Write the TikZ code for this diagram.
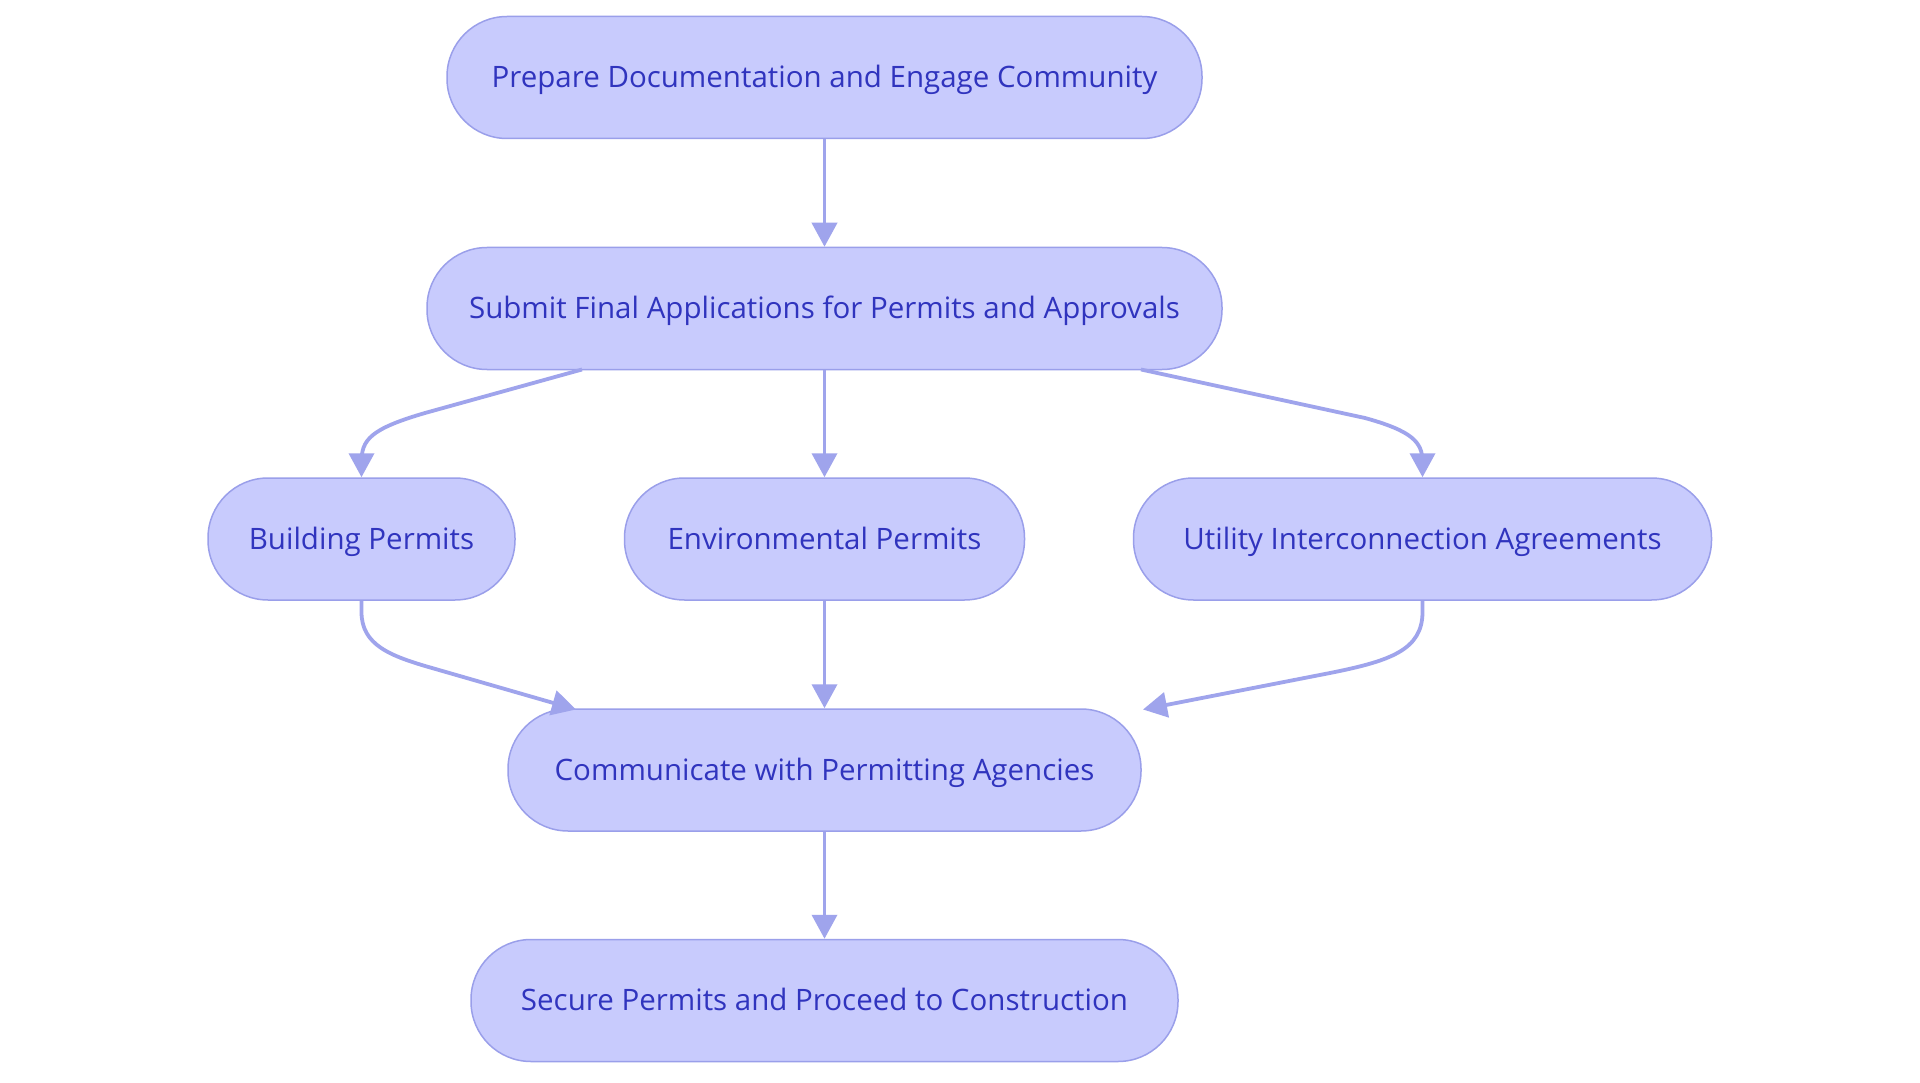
\documentclass[tikz,border=0pt]{standalone}
\usepackage{fontspec}
\setmainfont{Open Sans}
\usetikzlibrary{arrows.meta,calc}
\definecolor{nfill}{HTML}{C8CBFD}
\definecolor{nborder}{HTML}{9A9FEA}
\definecolor{edgec}{HTML}{9FA4EC}
\definecolor{ntext}{HTML}{3034BE}
\begin{document}
\begin{tikzpicture}[x=1pt,y=-1pt,
  box/.style={draw=nborder,line width=1.5pt,fill=nfill,rounded corners=60pt,
    minimum height=122pt,inner sep=0pt,text=ntext,text height=21pt,text depth=1pt,
    font=\fontsize{29.5}{34}\selectfont},
  link/.style={draw=edgec,line width=3.8pt,-{Triangle[length=24pt,width=25pt]}}]
\useasboundingbox[fill=white] (0,0) rectangle (1920,1083);
\node[box,minimum width=755pt] (n1) at (824.5,77.5) {Prepare Documentation and Engage Community};
\node[box,minimum width=795pt] (n2) at (824.5,308.5) {Submit Final Applications for Permits and Approvals};
\node[box,minimum width=307pt] (bld) at (361.5,539) {Building Permits};
\node[box,minimum width=400pt] (env) at (824.5,539) {Environmental Permits};
\node[box,minimum width=578pt] (uti) at (1422.5,539) {Utility Interconnection Agreements};
\node[box,minimum width=633pt] (com) at (824.5,770) {Communicate with Permitting Agencies};
\node[box,minimum width=707pt] (sec) at (824.5,1000.5) {Secure Permits and Proceed to Construction};
\coordinate (s2l) at (582,369.5);
\coordinate (s2r) at (1141,369.5);
\coordinate (cl) at (576,709.5);
\coordinate (cr) at (1143,709.5);
\draw[link] (n1) -- (n2);
\draw[link] (n2) -- (env);
\draw[link] (env) -- (com);
\draw[link] (com) -- (sec);
\draw[link] (s2l) -- (425,413) .. controls (370,429) and (361.5,440) .. (361.5,462) -- (bld.north);
\draw[link] (s2r) -- (1365,418) .. controls (1412,431) and (1422.5,442) .. (1422.5,462) -- (uti.north);
\draw[link] (bld.south) -- (361.5,612) .. controls (361.5,645) and (390,656) .. (432,668) -- (cl);
\draw[link] (uti.south) -- (1422.5,612) .. controls (1422.5,650) and (1390,661) .. (1330,673) -- (cr);
\end{tikzpicture}
\end{document}
